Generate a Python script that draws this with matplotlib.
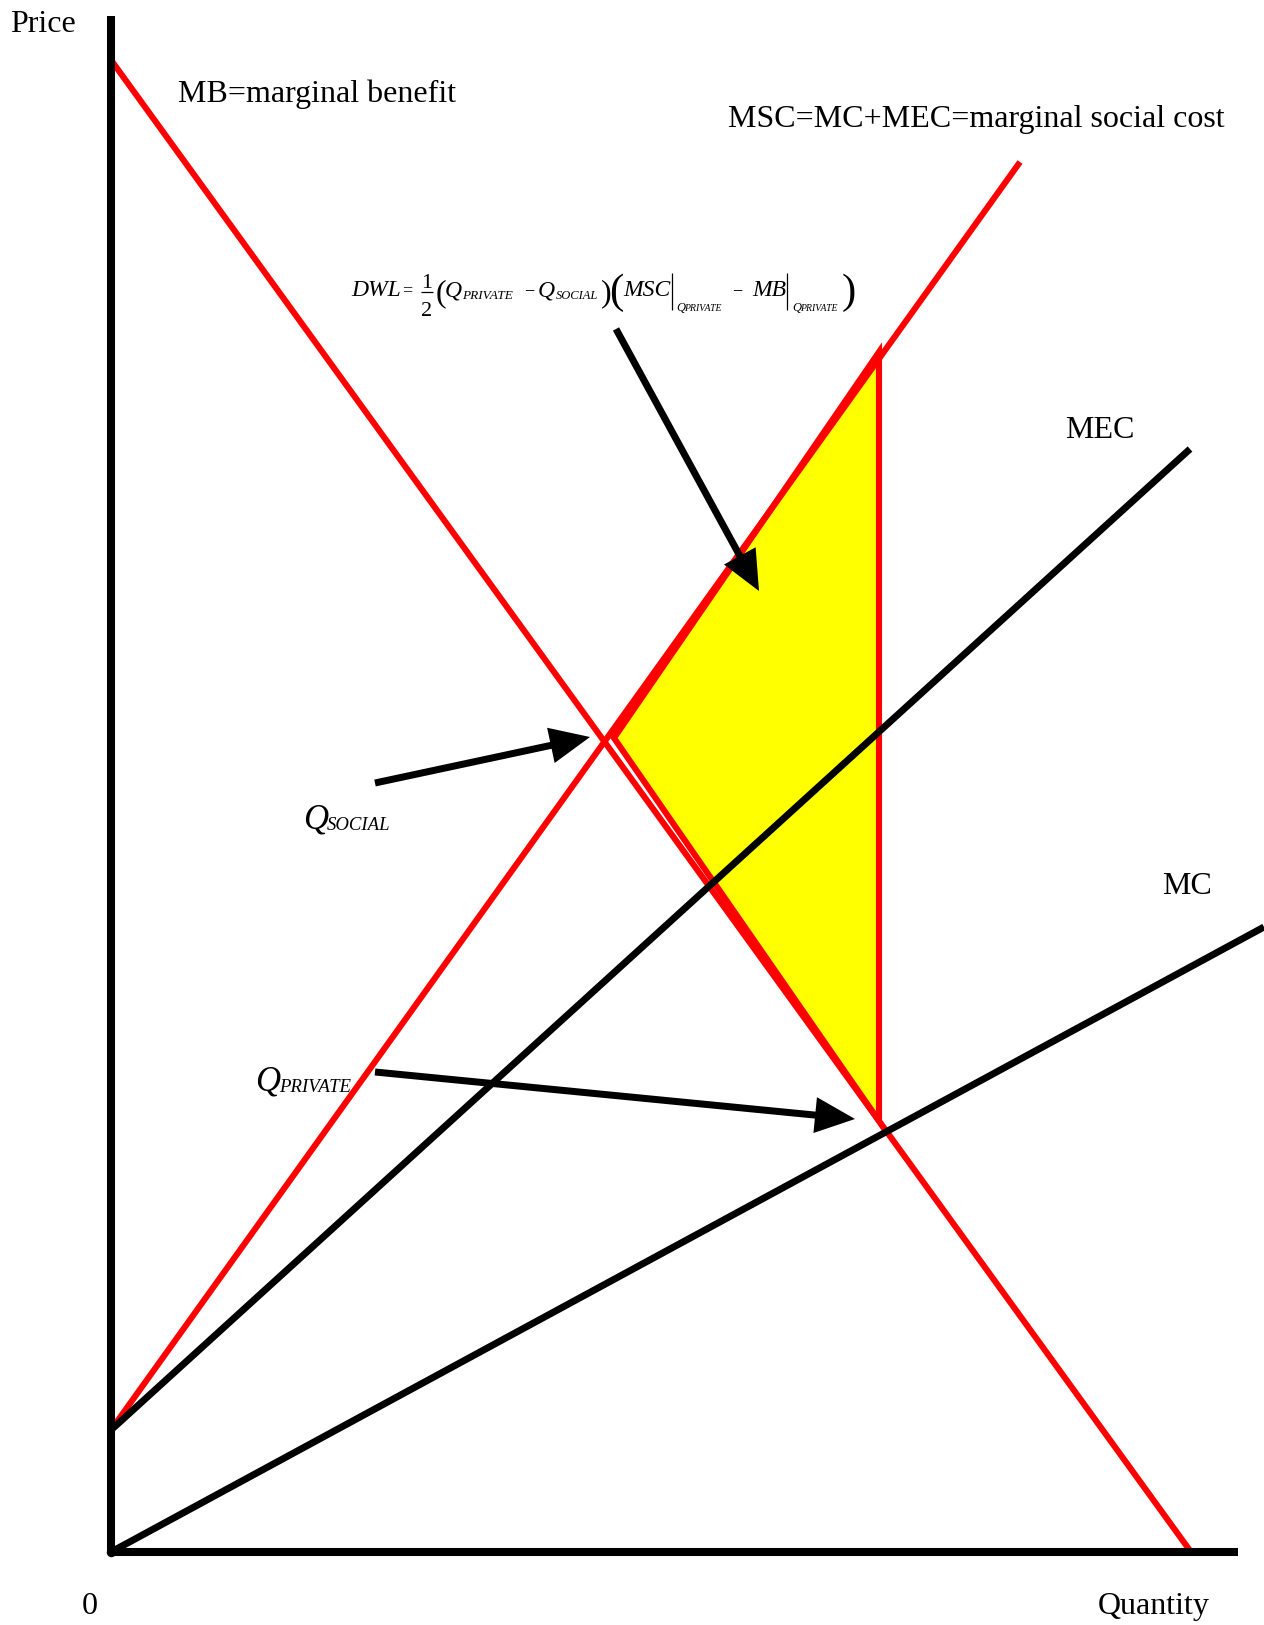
import matplotlib
matplotlib.use("Agg")
import matplotlib.pyplot as plt
from matplotlib.patches import Polygon

plt.rcParams["font.family"] = ["Liberation Serif", "DejaVu Serif"]

# Curve endpoints (quantity, price) in drawing units
mb_q = [0, 1080]
mb_p = [1492, 0]
msc_q = [0, 909]
msc_p = [122, 1390]
mec_q = [0, 1079]
mec_p = [122, 1103]
mc_q = [0, 1153]
mc_p = [0, 625]

# Deadweight-loss triangle between Q_social and Q_private
dwl_q = [503, 768, 768]
dwl_p = [814, 1200, 431]

# Axis extents
q_axis_max = 1127
p_axis_max = 1536

W, H = 1264, 1625
ox, oy = 111, 1552  # origin position in pixels

fig = plt.figure(figsize=(W / 100, H / 100), dpi=100)
ax = fig.add_axes([0, 0, 1, 1])
ax.set_xlim(-ox, W - ox)
ax.set_ylim(oy - H, oy)
ax.axis("off")

RED = "#ff0000"
BLACK = "#000000"

tri = Polygon(list(zip(dwl_q, dwl_p)), closed=True, facecolor="#ffff00",
              edgecolor=RED, lw=4.4, joinstyle="miter", zorder=2)
ax.add_patch(tri)

ax.plot(mb_q, mb_p, color=RED, lw=4.4, solid_capstyle="butt", zorder=3)
ax.plot(msc_q, msc_p, color=RED, lw=4.4, solid_capstyle="butt", zorder=3)
ax.plot(mec_q, mec_p, color=BLACK, lw=5.0, solid_capstyle="butt", zorder=4)
ax.plot(mc_q, mc_p, color=BLACK, lw=5.0, solid_capstyle="butt", zorder=4)

# Axes
ax.plot([0, 0], [0, p_axis_max], color=BLACK, lw=5.8, solid_capstyle="butt", zorder=6)
ax.plot([0, q_axis_max], [0, 0], color=BLACK, lw=5.8, solid_capstyle="butt", zorder=6)
ax.plot([0], [0], marker="o", ms=5.8, color=BLACK, zorder=6)

# Arrows (tail -> tip)
def arrow(x0, y0, x1, y1):
    ax.arrow(x0, y0, x1 - x0, y1 - y0, width=7, head_width=36, head_length=40,
             length_includes_head=True, color=BLACK, lw=0, zorder=7)

arrow(616 - ox, oy - 329, 759 - ox, oy - 591)
arrow(375 - ox, oy - 783, 590 - ox, oy - 737)
arrow(375 - ox, oy - 1072, 855 - ox, oy - 1119)

def label(px, py, s, size=23, ha="left", **kw):
    return ax.text(px - ox, oy - py, s, fontsize=size, ha=ha, va="baseline",
                   zorder=8, **kw)

def vbar(px, py0, py1, lw=0.9):
    ax.plot([px - ox, px - ox], [oy - py0, oy - py1], color=BLACK, lw=lw,
            solid_capstyle="butt", zorder=8)

def hbar(px0, px1, py, lw=0.9):
    ax.plot([px0 - ox, px1 - ox], [oy - py, oy - py], color=BLACK, lw=lw,
            solid_capstyle="butt", zorder=8)

label(10, 32, "Price")
label(178, 102, "MB=marginal benefit")
label(728, 127, "MSC=MC+MEC=marginal social cost")
label(1065, 438, "MEC")
label(1162, 894, "MC")
label(82, 1614, "0")
label(1098, 1614, "Quantity")

# Quantity markers: large italic Q with a small italic subscript
label(303, 828, "Q", size=25, style="italic")
label(327, 830, "SOCIAL", size=13.5, style="italic")
label(255, 1090, "Q", size=25, style="italic")
label(279, 1092, "PRIVATE", size=13.5, style="italic")

# Deadweight-loss formula, typeset piece by piece
base = 296
it = dict(style="italic")
label(351, base, "DWL", size=17, **it)
label(402, base - 1, "=", size=13)
label(427, 288, "1", size=16, ha="center")
hbar(421, 433, 292)
label(427, 316, "2", size=16, ha="center")
label(436, 301, "(", size=23)
label(445, base, "Q", size=17, **it)
label(462, 299, "PRIVATE", size=9.5, **it)
label(524, base - 1, "\u2212", size=13)
label(538, base, "Q", size=17, **it)
label(556, 299, "SOCIAL", size=9, **it)
label(601, 301, ")", size=23)
label(609, 303, "(", size=31)
label(623, base, "MSC", size=17, **it)
vbar(672, 273, 310)
label(676, 311, "Q", size=9, **it)
label(684, 311, "PRIVATE", size=7, **it)
label(732, base - 1, "\u2212", size=13)
label(752, base, "MB", size=17, **it)
vbar(787, 273, 310)
label(792, 311, "Q", size=9, **it)
label(800, 311, "PRIVATE", size=7, **it)
label(842, 303, ")", size=31)

fig.savefig("out.png", dpi=100)
